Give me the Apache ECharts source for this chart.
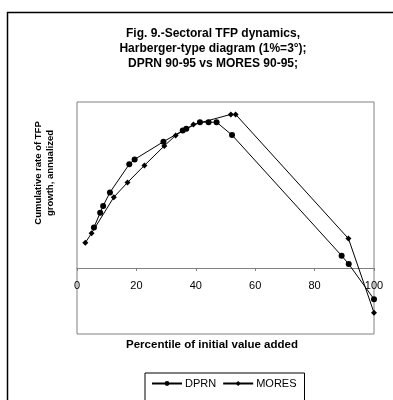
<!DOCTYPE html>
<html>
<head>
<meta charset="utf-8">
<script src="https://cdn.jsdelivr.net/npm/echarts@6/dist/echarts.min.js"></script>
<style>
  html, body { margin: 0; padding: 0; background: #fff; }
  #main { width: 393px; height: 400px; }
</style>
</head>
<body>
<div id="main"></div>
<script>
var myChart = echarts.init(document.getElementById('main'));

// [percentile, cumulative rate] (y in arbitrary units)
var dprnData = [
    [5.7, 13.5], [7.8, 18.4], [8.8, 20.7], [11.1, 25.2], [17.6, 34.6],
    [19.4, 36.2], [29.1, 42.1], [35.6, 45.8], [36.8, 46.4], [41.4, 48.6],
    [44.3, 48.6], [47.0, 48.6], [52.2, 44.3], [89.1, 4.1], [91.5, 1.3],
    [100, -10.4]
];
var moresData = [
    [2.8, 8.4], [4.9, 11.6], [12.4, 23.6], [17.0, 28.5], [22.7, 34.2],
    [29.4, 40.7], [33.2, 44.2], [39.2, 47.8], [51.8, 51.2], [53.4, 51.2],
    [91.4, 9.8], [100, -14.9]
];
var titleLines = [
    'Fig. 9.-Sectoral TFP dynamics,',
    'Harberger-type diagram (1%=3°);',
    'DPRN 90-95 vs MORES 90-95;'
];
var yName = 'Cumulative rate of TFP\ngrowth, annualized';
var xName = 'Percentile of initial value added';

var font = 'Liberation Sans, Arial, sans-serif';

var option = {
    animation: false,
    textStyle: { fontFamily: font },
    title: {
        text: titleLines.join('\n'),
        left: 208,
        top: 21,
        textAlign: 'center',
        textStyle: {
            fontFamily: font,
            fontSize: 12,
            fontWeight: 'bold',
            lineHeight: 15,
            color: '#000'
        }
    },
    legend: {
        left: 145,
        top: 373,
        itemWidth: 30,
        itemHeight: 6,
        itemGap: 6,
        padding: [5, 8, 14, 6],
        borderColor: '#000',
        borderWidth: 1,
        borderRadius: 0,
        data: ['DPRN', 'MORES'],
        textStyle: { fontFamily: font, fontSize: 11, color: '#000', padding: [0, 0, 0, -2] }
    },
    grid: {
        left: 77,
        right: 19,
        top: 102,
        bottom: 66,
        show: true,
        borderColor: '#808080',
        borderWidth: 1
    },
    xAxis: {
        type: 'value',
        min: 0,
        max: 100,
        interval: 20,
        offset: -66,
        axisLine: { onZero: false, lineStyle: { color: '#808080', width: 1 } },
        axisTick: { show: true, length: 3, lineStyle: { color: '#808080' } },
        axisLabel: { color: '#000', fontSize: 11, margin: 12, fontFamily: font },
        splitLine: { show: false }
    },
    yAxis: {
        type: 'value',
        min: -22,
        max: 55.33,
        axisLine: { show: false },
        axisTick: { show: false },
        axisLabel: { show: false },
        splitLine: { show: false }
    },
    graphic: [
        {
            type: 'rect',
            shape: { x: 7.5, y: 12.5, width: 400, height: 400 },
            style: { fill: 'none', stroke: '#000', lineWidth: 1.5 },
            silent: true
        },
        {
            type: 'text',
            x: 44,
            y: 173,
            rotation: Math.PI / 2,
            style: {
                text: yName,
                fontFamily: font,
                fontSize: 9.5,
                fontWeight: 'bold',
                lineHeight: 12,
                fill: '#000',
                align: 'center',
                verticalAlign: 'middle'
            }
        },
        {
            type: 'text',
            x: 212,
            y: 345,
            style: {
                text: xName,
                fontFamily: font,
                fontSize: 11.5,
                fontWeight: 'bold',
                fill: '#000',
                align: 'center',
                verticalAlign: 'middle'
            }
        }
    ],
    series: [
        {
            name: 'DPRN',
            type: 'line',
            data: dprnData,
            symbol: 'circle',
            symbolSize: 6,
            itemStyle: { color: '#000' },
            lineStyle: { color: '#000', width: 1 }
        },
        {
            name: 'MORES',
            type: 'line',
            data: moresData,
            symbol: 'diamond',
            symbolSize: 6,
            itemStyle: { color: '#000' },
            lineStyle: { color: '#000', width: 1 }
        }
    ]
};

myChart.setOption(option);
</script>
</body>
</html>
